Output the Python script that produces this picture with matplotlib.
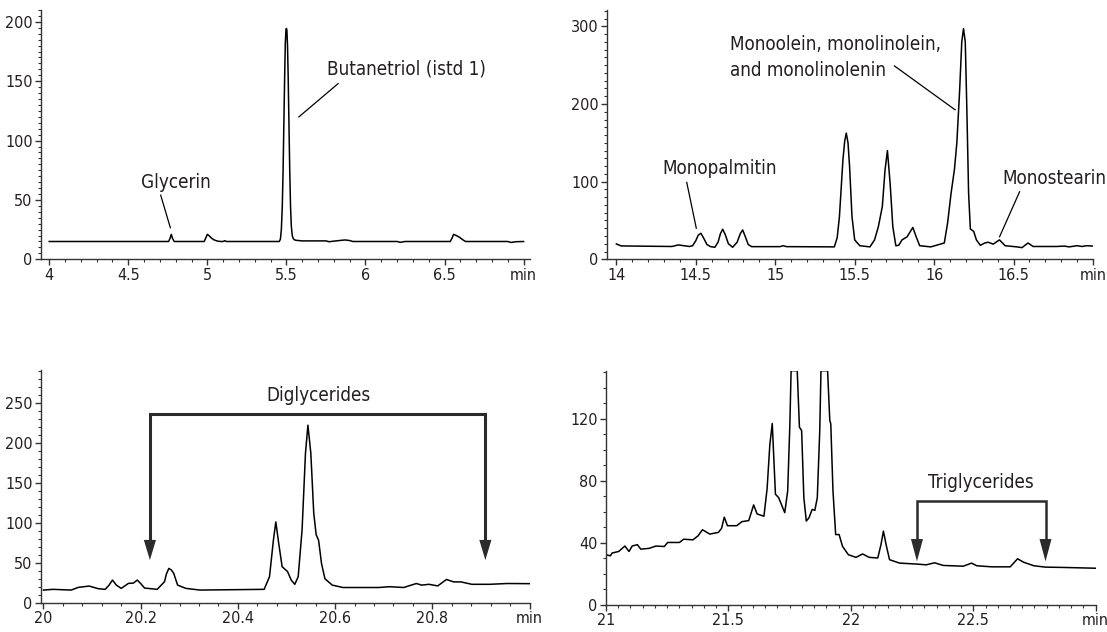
import matplotlib
matplotlib.use("Agg")
import matplotlib.pyplot as plt
from matplotlib import font_manager as fm
from matplotlib.ticker import MultipleLocator, FixedLocator, FixedFormatter

# ---------------- data ----------------
# Panel 1: 4-7 min
t1 = [4.00, 4.40, 4.755, 4.765, 4.772, 4.78, 4.79, 4.98, 4.99, 5.00, 5.01, 5.025, 5.04, 5.06,
      5.08, 5.10, 5.11, 5.12, 5.455, 5.462, 5.468, 5.474, 5.479, 5.484, 5.489, 5.493, 5.497,
      5.500, 5.503, 5.507, 5.511, 5.516, 5.521, 5.526, 5.531, 5.537, 5.543, 5.55, 5.56, 5.60,
      5.75, 5.77, 5.80, 5.87, 5.90, 5.92, 6.20, 6.22, 6.25, 6.34, 6.536, 6.548, 6.557, 6.575,
      6.595, 6.615, 6.633, 6.90, 6.92, 6.95, 7.00]
v1 = [15, 15, 15, 18, 21, 17.5, 15, 15, 18, 21, 20, 18, 16.5, 15.5,
      15, 15, 15.7, 15, 15, 17, 25, 45, 75, 115, 155, 182, 193,
      194.5, 193, 180, 155, 115, 75, 45, 28, 20, 17.5, 16.5, 16, 15.5,
      15.5, 14.8, 15.3, 16.3, 15.8, 15, 15, 14.3, 15, 15, 15, 18, 21, 20,
      18.5, 16.5, 15, 15, 14.2, 14.8, 15]

# Panel 2: 14-17 min
t2 = [14.00, 14.03, 14.35, 14.39, 14.46, 14.48, 14.50, 14.515, 14.532, 14.55, 14.57, 14.593,
      14.62, 14.64, 14.655, 14.669, 14.685, 14.705, 14.732, 14.76, 14.78, 14.795, 14.81, 14.83,
      14.851, 15.03, 15.05, 15.07, 15.372, 15.39, 15.404, 15.426, 15.437, 15.447, 15.458, 15.468,
      15.483, 15.50, 15.532, 15.596, 15.625, 15.649, 15.674, 15.691, 15.706, 15.723, 15.74,
      15.759, 15.777, 15.798, 15.83, 15.866, 15.887, 15.909, 15.979, 16.064, 16.085, 16.106,
      16.128, 16.143, 16.16, 16.174, 16.185, 16.196, 16.206, 16.217, 16.228, 16.249, 16.266,
      16.291, 16.319, 16.34, 16.372, 16.411, 16.447, 16.521, 16.553, 16.591, 16.623, 16.77,
      16.82, 16.85, 16.90, 16.93, 16.96, 17.00]
v2 = [19.8, 17.2, 16.5, 18.5, 16.5, 17.5, 24, 31, 33.5, 27, 19, 16.3,
      15.5, 22, 33, 38.7, 32, 20, 15.5, 22, 33, 37.8, 30, 19,
      16.3, 16.3, 17.5, 16.3, 16, 28, 55, 128, 152, 162.5, 150, 119,
      55, 25, 17.5, 16, 25, 42, 68, 115, 140, 98, 42,
      17.5, 18, 25, 29, 41, 29, 17.5, 16, 21, 47, 84,
      116, 150, 215, 280, 297, 280, 193, 85, 39, 36, 25,
      18, 21, 22, 19.5, 25, 17.5, 16, 15, 21, 16.5, 16.5,
      17, 16, 17.5, 16.5, 17.5, 17]

# Panel 3: 20-21 min
t3 = [20.00, 20.02, 20.057, 20.072, 20.094, 20.113, 20.127, 20.135, 20.142, 20.15, 20.16,
      20.175, 20.185, 20.193, 20.20, 20.208, 20.234, 20.249, 20.253, 20.258, 20.263, 20.268,
      20.276, 20.293, 20.322, 20.454, 20.465, 20.473, 20.478, 20.484, 20.491, 20.502, 20.51,
      20.517, 20.524, 20.532, 20.539, 20.544, 20.55, 20.556, 20.561, 20.566, 20.572, 20.579,
      20.594, 20.616, 20.69, 20.712, 20.741, 20.767, 20.778, 20.793, 20.811, 20.829, 20.844,
      20.859, 20.881, 20.918, 20.954, 21.00]
v3 = [15.8, 16.7, 15.8, 19.2, 20.8, 17.5, 16.7, 22, 28.3, 22, 17.9,
      24.2, 24.5, 28.3, 24, 18.3, 16.7, 26.2, 36, 42.9, 41, 36.7,
      22, 17.9, 15.8, 16.7, 32.5, 78, 101, 74, 45, 39, 28,
      23, 32.5, 91, 187, 222, 187, 112, 85, 78, 49, 30,
      22, 19, 19, 20, 19, 24, 22, 23, 21, 29, 26,
      26, 23, 23, 24, 23.8]

# Panel 4: 21-23 min (two peaks off scale)
t4 = [21.00, 21.018, 21.025, 21.052, 21.077, 21.094, 21.107, 21.128, 21.142, 21.176, 21.204,
      21.238, 21.252, 21.30, 21.317, 21.355, 21.376, 21.394, 21.424, 21.459, 21.472, 21.483,
      21.496, 21.534, 21.555, 21.583, 21.603, 21.617, 21.645, 21.658, 21.669, 21.679, 21.692,
      21.705, 21.73, 21.742, 21.751, 21.756, 21.781, 21.79, 21.799, 21.808, 21.818, 21.829,
      21.842, 21.853, 21.863, 21.873, 21.878, 21.905, 21.914, 21.918, 21.927, 21.938, 21.952,
      21.966, 21.99, 22.021, 22.048, 22.075, 22.11, 22.123, 22.133, 22.144, 22.158, 22.199,
      22.267, 22.308, 22.342, 22.377, 22.459, 22.493, 22.514, 22.575, 22.651, 22.681, 22.705,
      22.747, 22.795, 22.87, 23.00]
v4 = [32.4, 31.7, 33.5, 34.5, 38, 34.5, 38, 38.9, 36, 36.5, 38,
      37.7, 40.3, 40.3, 42.4, 42, 44.6, 48.5, 45.7, 46.8, 49.4, 56.6,
      51.1, 51.1, 53.7, 54.4, 64.5, 58.7, 57.2, 75, 103, 117, 71.4,
      69.2, 59.5, 73.5, 116.8, 151, 151, 114.6, 112.4, 69.2, 54.1, 56.2,
      61.6, 61, 69.2, 112.4, 151, 151, 118.9, 116.8, 73.5, 45.4, 45.4,
      37.8, 32.4, 30.7, 32.9, 30.7, 30.3, 38.9, 47.6, 38.9, 29.2, 27,
      26.4, 25.9, 27.2, 25.5, 25, 27, 25.3, 24.6, 24.6, 29.8, 27.6,
      25.3, 24.4, 24.2, 23.7]

xticks1 = [4, 4.5, 5, 5.5, 6, 6.5, 7]
xlabels1 = ["4", "4.5", "5", "5.5", "6", "6.5", "min"]
yticks1 = [0, 50, 100, 150, 200]
xticks2 = [14, 14.5, 15, 15.5, 16, 16.5, 17]
xlabels2 = ["14", "14.5", "15", "15.5", "16", "16.5", "min"]
yticks2 = [0, 100, 200, 300]
xticks3 = [20, 20.2, 20.4, 20.6, 20.8, 21]
xlabels3 = ["20", "20.2", "20.4", "20.6", "20.8", "min"]
yticks3 = [0, 50, 100, 150, 200, 250]
xticks4 = [21, 21.5, 22, 22.5, 23]
xlabels4 = ["21", "21.5", "22", "22.5", "min"]
yticks4 = [0, 40, 80, 120]

# ---------------- style ----------------
names = {f.name for f in fm.fontManager.ttflist}
if "Liberation Sans Narrow" in names:
    FONT = dict(family="Liberation Sans Narrow")
else:
    FONT = dict(family="DejaVu Sans", stretch="condensed")

TXT = "#231f20"
TICK_FS = 11.5
ANN_FS = 13.5

W, H = 1107, 632
fig = plt.figure(figsize=(W / 100, H / 100), dpi=100)


def make_ax(x0, x1, ytop, ybot):
    return fig.add_axes([x0 / W, 1 - ybot / H, (x1 - x0) / W, (ybot - ytop) / H])


def style(ax, xlim, ylim, xt, xl, yt, xminor, yminor):
    ax.set_xlim(*xlim)
    ax.set_ylim(*ylim)
    for s in ("top", "right"):
        ax.spines[s].set_visible(False)
    for s in ("left", "bottom"):
        ax.spines[s].set_linewidth(1.0)
        ax.spines[s].set_color("#333333")
    ax.xaxis.set_major_locator(FixedLocator(xt))
    ax.xaxis.set_major_formatter(FixedFormatter(xl))
    ax.set_yticks(yt)
    ax.set_yticklabels([str(v) for v in yt])
    ax.xaxis.set_minor_locator(MultipleLocator(xminor))
    ax.yaxis.set_minor_locator(MultipleLocator(yminor))
    ax.tick_params(axis="both", which="major", direction="out", length=4, width=1.0,
                   color="#333333", labelsize=TICK_FS, labelcolor=TXT, pad=2)
    ax.tick_params(axis="both", which="minor", direction="out", length=2.5, width=0.8,
                   color="#333333")
    for lab in ax.get_xticklabels() + ax.get_yticklabels():
        lab.set(**FONT)


LW = 1.1

# Panel 1
ax1 = make_ax(41, 530.4, 10, 259.3)
ax1.plot(t1, v1, color="black", lw=LW)
style(ax1, (3.948, 7.043), (0, 210), xticks1, xlabels1, yticks1, 0.1, 5)
ax1.text(4.80, 65, "Glycerin", ha="center", va="center", fontsize=ANN_FS, color=TXT, **FONT)
ax1.plot([4.705, 4.766], [54, 26.6], color="black", lw=0.9)
ax1.text(5.755, 160.7, "Butanetriol (istd 1)", ha="left", va="center", fontsize=ANN_FS,
         color=TXT, **FONT)
ax1.plot([5.827, 5.579], [148, 120], color="black", lw=0.9)

# Panel 2
ax2 = make_ax(607, 1093, 10, 259.3)
ax2.plot(t2, v2, color="black", lw=LW)
style(ax2, (13.941, 17.0), (0, 321), xticks2, xlabels2, yticks2, 0.1, 10)
ax2.text(14.647, 117, "Monopalmitin", ha="center", va="center", fontsize=ANN_FS, color=TXT, **FONT)
ax2.plot([14.443, 14.503], [99, 40], color="black", lw=0.9)
ax2.text(14.717, 259.5, "Monoolein, monolinolein,\nand monolinolenin", ha="left", va="center",
         fontsize=ANN_FS, color=TXT, linespacing=1.45, **FONT)
ax2.plot([15.75, 16.132], [249, 192.5], color="black", lw=0.9)
ax2.text(16.43, 104, "Monostearin", ha="left", va="center", fontsize=ANN_FS, color=TXT, **FONT)
ax2.plot([16.538, 16.412], [87, 29], color="black", lw=0.9)

# Panel 3
ax3 = make_ax(41, 529.6, 370, 602.7)
ax3.plot(t3, v3, color="black", lw=LW)
style(ax3, (19.995, 21.0), (0, 291), xticks3, xlabels3, yticks3, 0.04, 10)
BR = "#2b2b2b"
ax3.plot([20.219, 20.219, 20.909, 20.909], [76, 235.4, 235.4, 76], color=BR, lw=2.2,
         solid_joinstyle="miter")
for xa in (20.219, 20.909):
    ax3.fill([xa - 0.0125, xa + 0.0125, xa], [78.5, 78.5, 53.3], color=BR, lw=0)
ax3.text(20.565, 259, "Diglycerides", ha="center", va="center", fontsize=ANN_FS, color=TXT, **FONT)

# Panel 4
ax4 = make_ax(606, 1095.7, 370.7, 605)
ax4.plot(t4, v4, color="black", lw=LW)
style(ax4, (21.0, 23.0), (0, 151), xticks4, xlabels4, yticks4, 0.05, 10)
ax4.plot([22.27, 22.27, 22.795, 22.795], [41, 67, 67, 41], color=BR, lw=1.8,
         solid_joinstyle="miter")
for xa in (22.27, 22.795):
    ax4.fill([xa - 0.0245, xa + 0.0245, xa], [42.5, 42.5, 28.1], color=BR, lw=0)
ax4.text(22.53, 79, "Triglycerides", ha="center", va="center", fontsize=ANN_FS, color=TXT, **FONT)

fig.savefig("out.png", dpi=100)
